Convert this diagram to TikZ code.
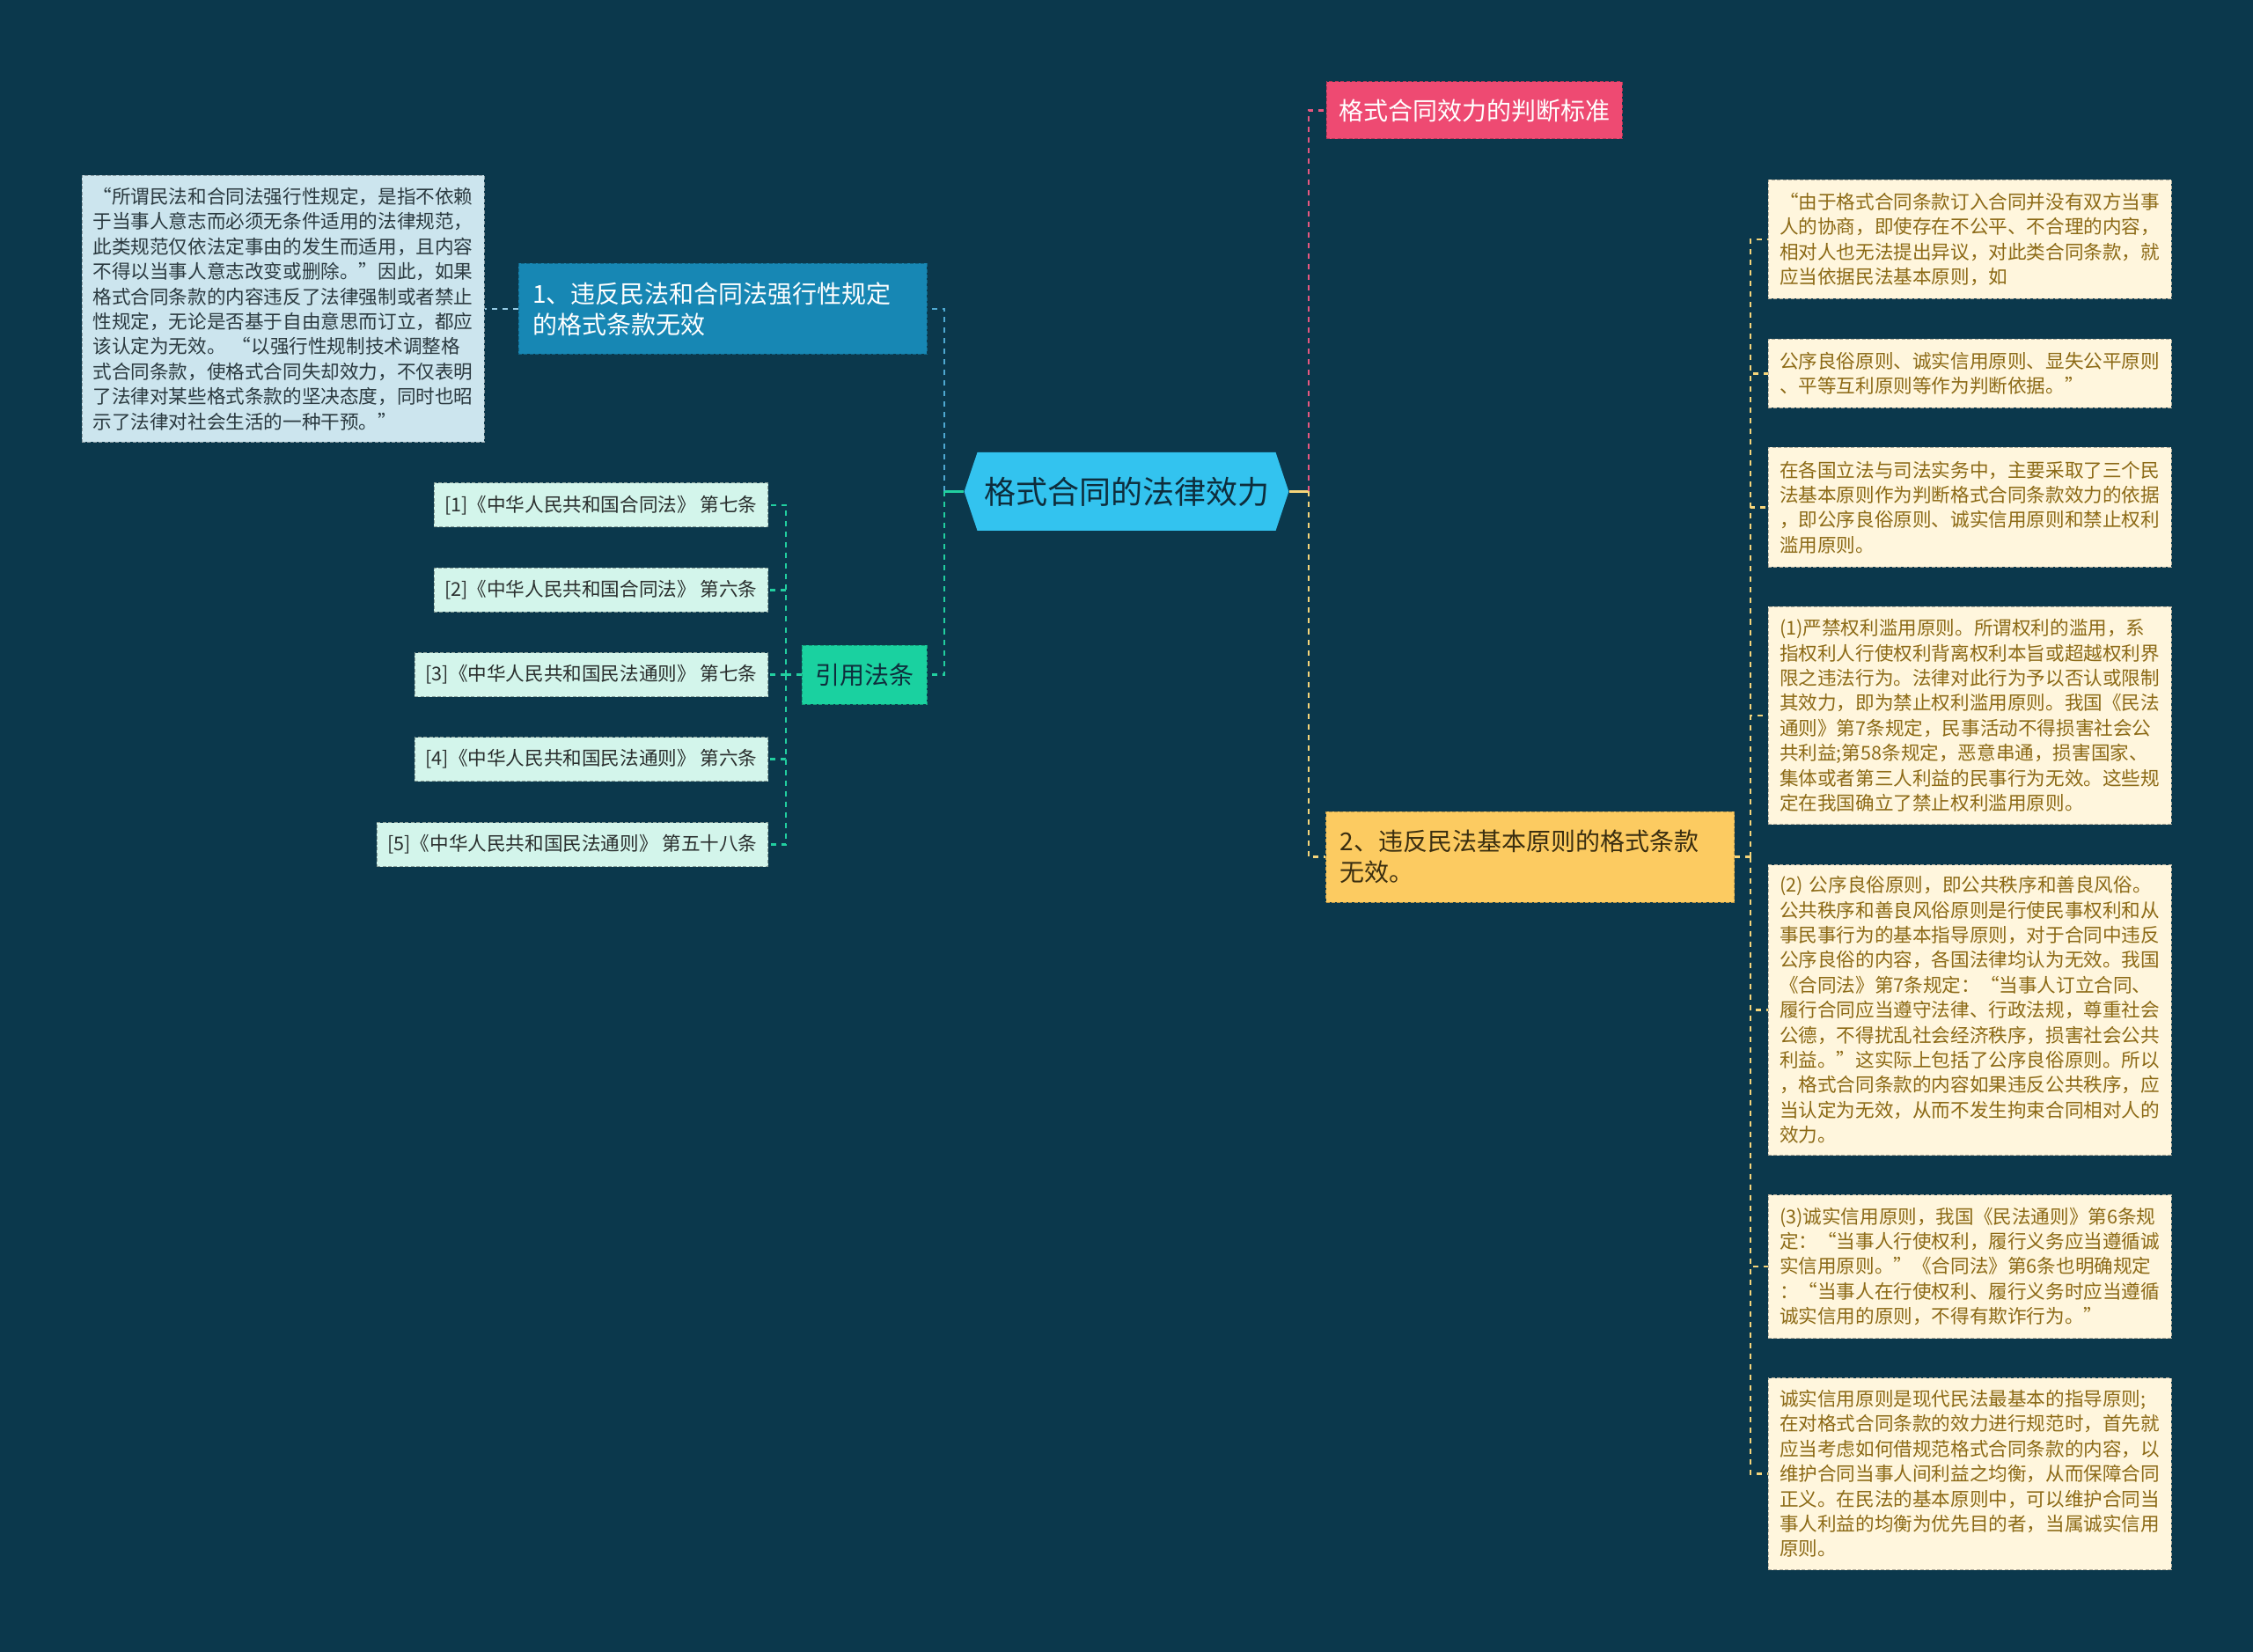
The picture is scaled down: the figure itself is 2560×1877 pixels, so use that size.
\documentclass[tikz,border=0pt]{standalone}
\usepackage{fontspec}
\setmainfont{Noto Sans CJK SC}
\usetikzlibrary{positioning,shapes.symbols}
\definecolor{bgnavy}{HTML}{0B384C}
\definecolor{rootfill}{HTML}{33C3EF}
\definecolor{rootink}{HTML}{0E2D3C}
\definecolor{rulefill}{HTML}{1787B4}
\definecolor{notefill}{HTML}{CCE5EE}
\definecolor{noteink}{HTML}{2B3A40}
\definecolor{citefill}{HTML}{D3F5EB}
\definecolor{citeink}{HTML}{2A2F2E}
\definecolor{lawfill}{HTML}{1AD1A0}
\definecolor{stdfill}{HTML}{EE4A72}
\definecolor{basefill}{HTML}{FCCB61}
\definecolor{baseink}{HTML}{3A2E10}
\definecolor{creamfill}{HTML}{FFF6DD}
\definecolor{creamink}{HTML}{8C6A16}
\definecolor{linkblue}{HTML}{4FA9D2}
\definecolor{linkgreen}{HTML}{22CFA0}
\definecolor{linkpink}{HTML}{E7577F}
\definecolor{linkyellow}{HTML}{F6D57A}

\tikzset{
  smalltext/.style={font=\fontsize{10.8}{14.2}\selectfont},
  bigtext/.style={font=\fontsize{14}{17.5}\selectfont},
  notebox/.style={smalltext, fill=notefill, text=noteink, draw=notefill!70!black,
    dash pattern=on 2pt off 1.2pt, line width=0.5pt, inner xsep=6.25pt, inner ysep=2pt,
    text width=216pt, align=left},
  creambox/.style={smalltext, fill=creamfill, text=creamink, draw=creamfill!70!black,
    dash pattern=on 2pt off 1.2pt, line width=0.5pt, inner xsep=6.5pt, inner ysep=2pt,
    text width=216pt, align=left, anchor=north west},
  citebox/.style={smalltext, fill=citefill, text=citeink, draw=citefill!65!black,
    dash pattern=on 2pt off 1.2pt, line width=0.5pt, inner xsep=6pt,
    minimum height=25pt, anchor=east},
  topicbox/.style={bigtext, draw=#1!75!black, fill=#1, dash pattern=on 2pt off 1.2pt,
    line width=0.5pt, inner xsep=8pt, inner ysep=2pt},
  link/.style={line width=1.1pt, dash pattern=on 3pt off 3pt},
  stub/.style={line width=1.1pt},
}

\begin{document}
\begin{tikzpicture}[x=0.5pt, y=-0.5pt]
  \useasboundingbox (0,0) rectangle (2560,1877);
  \fill[bgnavy] (0,0) rectangle (2560,1877);

  % centre
  \node[signal, signal to=east and west, signal pointer angle=143, fill=rootfill, text=rootink,
    font=\fontsize{18}{22}\selectfont, inner xsep=3.75pt, minimum height=44.5pt] (root) at (1280,558.5) {格式合同的法律效力};

  % left branch
  \node[topicbox=rulefill, text=white, text width=216pt, align=left, minimum height=51.5pt] (rule) at (821,351)
    {1、违反民法和合同法强行性规定\\的格式条款无效};
  \node[notebox, minimum height=151.5pt] (note) at (321.5,351)
    {“所谓民法和合同法强行性规定，是指不依赖\\于当事人意志而必须无条件适用的法律规范，\\此类规范仅依法定事由的发生而适用，且内容\\不得以当事人意志改变或删除。”因此，如果\\格式合同条款的内容违反了法律强制或者禁止\\性规定，无论是否基于自由意思而订立，都应\\该认定为无效。 “以强行性规制技术调整格\\式合同条款，使格式合同失却效力，不仅表明\\了法律对某些格式条款的坚决态度，同时也昭\\示了法律对社会生活的一种干预。”};

  \node[topicbox=lawfill, text=rootink, inner xsep=7.5pt, minimum height=33.5pt] (law) at (982,766.5) {引用法条};
  \node[citebox] (cite1) at (873,574) {[1]《中华人民共和国合同法》 第七条};
  \node[citebox] (cite2) at (873,670.5) {[2]《中华人民共和国合同法》 第六条};
  \node[citebox] (cite3) at (873,766.5) {[3]《中华人民共和国民法通则》 第七条};
  \node[citebox] (cite4) at (873,862.5) {[4]《中华人民共和国民法通则》 第六条};
  \node[citebox] (cite5) at (873,959.5) {[5]《中华人民共和国民法通则》 第五十八条};

  % right branch
  \node[topicbox=stdfill, text=white, inner xsep=7pt, minimum height=32.5pt] (std) at (1675,125.5) {格式合同效力的判断标准};
  \node[topicbox=basefill, text=baseink, text width=216pt, align=left, minimum height=51.5pt] (base) at (1738.5,973.5)
    {2、违反民法基本原则的格式条款\\无效。};

  \node[creambox, minimum height=67.5pt] (textA) at (2008.5,204)
    {“由于格式合同条款订入合同并没有双方当事\\人的协商，即使存在不公平、不合理的内容，\\相对人也无法提出异议，对此类合同条款，就\\应当依据民法基本原则，如};
  \node[creambox, minimum height=39pt] (textB) at (2008.5,385)
    {公序良俗原则、诚实信用原则、显失公平原则\\、平等互利原则等作为判断依据。”};
  \node[creambox, minimum height=68pt] (textC) at (2008.5,508)
    {在各国立法与司法实务中，主要采取了三个民\\法基本原则作为判断格式合同条款效力的依据\\，即公序良俗原则、诚实信用原则和禁止权利\\滥用原则。};
  \node[creambox, minimum height=123.5pt] (textD) at (2008.5,689)
    {(1)严禁权利滥用原则。所谓权利的滥用，系\\指权利人行使权利背离权利本旨或超越权利界\\限之违法行为。法律对此行为予以否认或限制\\其效力，即为禁止权利滥用原则。我国《民法\\通则》第7条规定，民事活动不得损害社会公\\共利益;第58条规定，恶意串通，损害国家、\\集体或者第三人利益的民事行为无效。这些规\\定在我国确立了禁止权利滥用原则。};
  \node[creambox, minimum height=165pt] (textE) at (2008.5,982)
    {(2) 公序良俗原则，即公共秩序和善良风俗。\\公共秩序和善良风俗原则是行使民事权利和从\\事民事行为的基本指导原则，对于合同中违反\\公序良俗的内容，各国法律均认为无效。我国\\《合同法》第7条规定：“当事人订立合同、\\履行合同应当遵守法律、行政法规，尊重社会\\公德，不得扰乱社会经济秩序，损害社会公共\\利益。”这实际上包括了公序良俗原则。所以\\，格式合同条款的内容如果违反公共秩序，应\\当认定为无效，从而不发生拘束合同相对人的\\效力。};
  \node[creambox, minimum height=81.5pt] (textF) at (2008.5,1357)
    {(3)诚实信用原则，我国《民法通则》第6条规\\定：“当事人行使权利，履行义务应当遵循诚\\实信用原则。”《合同法》第6条也明确规定\\：“当事人在行使权利、履行义务时应当遵循\\诚实信用的原则，不得有欺诈行为。”};
  \node[creambox, minimum height=109pt] (textG) at (2008.5,1565)
    {诚实信用原则是现代民法最基本的指导原则;\\在对格式合同条款的效力进行规范时，首先就\\应当考虑如何借规范格式合同条款的内容，以\\维护合同当事人间利益之均衡，从而保障合同\\正义。在民法的基本原则中，可以维护合同当\\事人利益的均衡为优先目的者，当属诚实信用\\原则。};

  % joints
  \coordinate (leftjoint) at (1073,558.5);
  \coordinate (citejoint) at (893,766.5);
  \coordinate (rightjoint) at (1487,558.5);
  \coordinate (basejoint) at (1989,973.5);

  % connectors
  \draw[stub, linkgreen] (root.west) -- (leftjoint);
  \draw[link, linkblue] (leftjoint) |- (rule.east);
  \draw[link, linkgreen] (leftjoint) |- (law.east);
  \draw[link, linkblue!60!white] (rule.west) -- (note.east);
  \draw[link, linkgreen] (law.west) -- (citejoint);
  \draw[link, linkgreen] (citejoint) |- (cite1.east);
  \draw[link, linkgreen] (citejoint) |- (cite2.east);
  \draw[link, linkgreen] (citejoint) -- (cite3.east);
  \draw[link, linkgreen] (citejoint) |- (cite4.east);
  \draw[link, linkgreen] (citejoint) |- (cite5.east);

  \draw[stub, linkyellow] (root.east) -- (rightjoint);
  \draw[link, linkpink] (rightjoint) |- (std.west);
  \draw[link, linkyellow] (rightjoint) |- (base.west);
  \draw[link, linkyellow] (base.east) -- (basejoint);
  \draw[link, linkyellow] (basejoint) |- (textA.west);
  \draw[link, linkyellow] (basejoint) |- (textB.west);
  \draw[link, linkyellow] (basejoint) |- (textC.west);
  \draw[link, linkyellow] (basejoint) |- (textD.west);
  \draw[link, linkyellow] (basejoint) |- (textE.west);
  \draw[link, linkyellow] (basejoint) |- (textF.west);
  \draw[link, linkyellow] (basejoint) |- (textG.west);
\end{tikzpicture}
\end{document}
